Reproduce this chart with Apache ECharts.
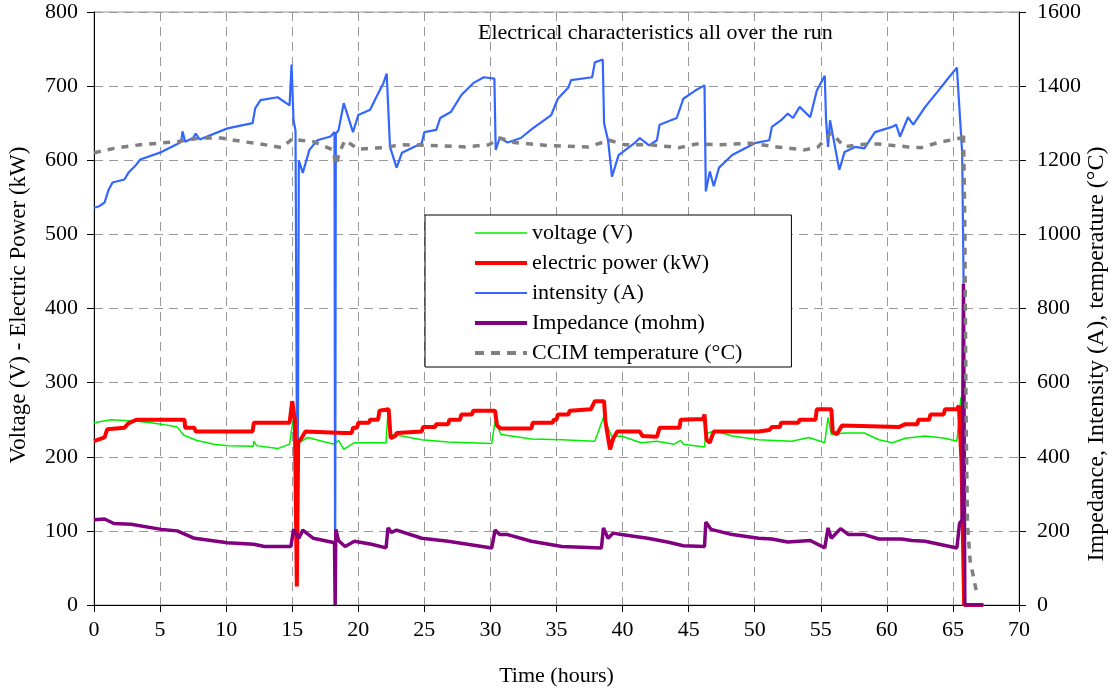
<!DOCTYPE html>
<html>
<head>
<meta charset="utf-8">
<title>Electrical characteristics</title>
<script src="https://cdn.jsdelivr.net/npm/echarts@6/dist/echarts.min.js"></script>
<style>
  html, body { margin: 0; padding: 0; background: #fff; }
  #chart { width: 1112px; height: 692px; }
</style>
</head>
<body>
<div id="chart"></div>
<script>
// x axis ticks (hours), left axis ticks, right axis ticks
var xTicks = [0, 5, 10, 15, 20, 25, 30, 35, 40, 45, 50, 55, 60, 65, 70];
var leftTicks = [0, 100, 200, 300, 400, 500, 600, 700, 800];
var rightTicks = [0, 200, 400, 600, 800, 1000, 1200, 1400, 1600];

// voltage (V) - left axis
var voltageTime = [0.0, 1.3, 2.3, 3.3, 4.3, 5.1, 6.3, 6.8, 7.8, 9.1, 10.1, 12.05, 12.1, 12.3, 13.9, 14.8, 15.05, 15.3, 15.5, 16.2, 17.7, 18.2,
  18.5, 18.9, 19.7, 21.3, 22.1, 22.25, 22.5, 23.3, 24.8, 26.8, 30.1, 30.35, 30.8, 33.1, 35.4, 37.9, 38.55, 39.2, 39.9, 41.4, 42.6,
  43.9, 44.4, 44.6, 46.2, 46.3, 47.0, 48.3, 50.3, 52.8, 54.1, 55.3, 55.55, 55.8, 56.8, 58.3, 59.4, 60.4, 61.4, 62.9, 64.4, 65.3,
  65.6, 65.85, 67.3];
var voltage = [246, 250, 249, 248, 246, 244, 240, 229, 222, 217, 215, 214, 221, 215, 211, 217, 248, 222, 219, 226, 219, 217,
  222, 210, 219, 219, 219, 262, 230, 228, 223, 220, 218, 248, 230, 224, 223, 221, 253, 227, 228, 219, 221,
  217, 222, 217, 213, 231, 235, 228, 223, 221, 226, 219, 253, 230, 232, 232, 223, 219, 225, 228, 225, 221,
  280, 0, 0];

// electric power (kW) - left axis
var powerTime = [0.0, 0.8, 1.0, 2.3, 2.6, 3.2, 6.85, 6.9, 7.6, 7.7, 12.0, 12.1, 14.8, 15.0, 15.2, 15.35, 15.45, 15.7, 16.0, 18.9,
  19.5, 19.6, 19.9, 20.0, 20.8, 20.9, 21.5, 21.6, 22.3, 22.45, 22.8, 22.9, 24.8, 24.9, 25.8, 25.9, 26.8, 26.9, 27.7, 27.8, 28.6,
  28.7, 30.35, 30.5, 30.8, 33.1, 33.2, 34.7, 34.8, 35.0, 35.1, 35.9, 36.0, 37.6, 37.9, 38.6, 38.7, 39.05, 39.3, 39.6, 41.3, 41.5,
  42.6, 42.8, 44.3, 44.4, 46.1, 46.2, 46.35, 46.6, 46.9, 50.3, 51.1, 51.3, 51.9, 52.0, 53.3, 53.4, 54.6, 54.7, 55.8, 55.9, 56.2,
  56.6, 60.9, 61.4, 62.3, 62.4, 63.2, 63.3, 64.3, 64.4, 65.3, 65.45, 65.6, 65.65, 65.85, 67.3];
var power = [221, 226, 237, 239, 245, 250, 250, 239, 239, 234, 234, 246, 246, 275, 250, 25, 219, 225, 234, 232,
  232, 239, 239, 246, 246, 250, 250, 262, 264, 225, 228, 232, 234, 240, 240, 244, 244, 250, 250, 257, 257,
  262, 262, 242, 238, 238, 246, 246, 250, 250, 257, 257, 262, 264, 275, 275, 248, 210, 225, 234, 234, 228,
  227, 239, 239, 250, 251, 257, 223, 219, 234, 234, 236, 240, 240, 246, 246, 250, 250, 264, 264, 234, 230,
  242, 240, 244, 244, 250, 250, 257, 257, 264, 264, 269, 269, 193, 0, 0];

// intensity (A) - right axis
var intensityTime = [0.0, 0.4, 0.8, 1.1, 1.4, 2.3, 2.6, 3.2, 3.5, 5.1, 6.3, 6.6, 6.7, 6.9, 7.5, 7.7, 8.0, 10.1, 12.0, 12.2,
  12.6, 13.9, 14.8, 14.95, 15.1, 15.25, 15.4, 15.5, 15.8, 16.3, 16.9, 17.9, 18.2, 18.25, 18.3, 18.5, 18.9, 19.6, 20.0, 20.9,
  21.3, 21.9, 22.15, 22.4, 22.9, 23.3, 24.8, 25.0, 25.9, 26.2, 27.0, 27.8, 28.7, 29.5, 30.3, 30.4, 30.7, 31.3, 32.3, 33.2,
  34.6, 35.1, 35.9, 36.1, 37.7, 37.9, 38.5, 38.6, 38.9, 39.2, 39.7, 40.9, 41.3, 42.0, 42.6, 42.8, 44.1, 44.6, 45.5, 46.2,
  46.3, 46.6, 46.9, 47.3, 48.3, 50.0, 51.1, 51.3, 52.0, 52.5, 52.9, 53.4, 54.2, 54.7, 55.3, 55.4, 55.55, 55.7, 56.4, 56.8,
  57.6, 58.3, 59.1, 60.4, 60.7, 61.0, 61.6, 62.0, 62.9, 63.9, 64.7, 65.3, 65.7, 65.8, 65.9, 67.3];
var intensity = [1072, 1076, 1086, 1120, 1140, 1148, 1166, 1188, 1202, 1222, 1244, 1250, 1278, 1250, 1260, 1272, 1256, 1286, 1300, 1340,
  1362, 1370, 1348, 1458, 1308, 1280, 80, 1200, 1166, 1228, 1254, 1264, 1276, 0, 1272, 1280, 1354, 1276, 1322, 1336,
  1366, 1408, 1434, 1236, 1180, 1220, 1246, 1276, 1282, 1314, 1330, 1376, 1408, 1424, 1420, 1228, 1260, 1248, 1260, 1286,
  1322, 1366, 1396, 1416, 1424, 1464, 1472, 1300, 1254, 1156, 1214, 1246, 1260, 1240, 1254, 1296, 1314, 1366, 1388, 1402,
  1116, 1170, 1130, 1180, 1214, 1246, 1254, 1290, 1308, 1326, 1314, 1344, 1316, 1388, 1428, 1308, 1236, 1308, 1174, 1222,
  1236, 1232, 1276, 1290, 1296, 1264, 1316, 1296, 1344, 1388, 1424, 1450, 1220, 898, 0, 0];

// Impedance (mohm) - right axis
var impedanceTime = [0.0, 0.8, 1.5, 2.8, 5.1, 6.3, 7.6, 10.1, 12.1, 12.9, 14.9, 15.1, 15.5, 15.8, 16.6, 18.2, 18.25, 18.3, 18.5,
  19.0, 19.7, 21.0, 22.1, 22.25, 22.5, 22.9, 24.8, 26.8, 30.1, 30.35, 30.7, 31.3, 33.1, 35.4, 38.4, 38.55, 38.9, 39.3, 39.9,
  41.9, 43.4, 44.6, 46.2, 46.3, 46.7, 48.3, 50.3, 51.3, 52.5, 54.2, 55.3, 55.55, 55.8, 56.5, 57.1, 58.3, 59.4, 61.1, 61.9,
  62.9, 65.3, 65.5, 65.7, 65.8, 65.9, 67.3];
var impedance = [230, 232, 220, 218, 204, 200, 180, 168, 164, 158, 158, 204, 180, 202, 180, 168, 0, 204, 174,
  158, 172, 164, 154, 208, 196, 202, 180, 172, 154, 202, 190, 190, 172, 158, 154, 208, 180, 194, 190,
  180, 170, 160, 158, 224, 204, 190, 180, 178, 170, 174, 154, 208, 180, 206, 190, 190, 178, 178, 174,
  172, 154, 220, 230, 866, 0, 0];

// CCIM temperature (°C) - right axis
var temperatureTime = [0.0, 1.5, 3.5, 6.3, 8.0, 9.6, 11.3, 12.6, 14.2, 15.1, 15.6, 16.6, 18.1, 18.3, 18.6, 19.0, 20.0, 21.8,
  22.2, 23.3, 25.5, 28.1, 29.9, 30.7, 31.8, 34.3, 37.4, 39.0, 40.1, 42.0, 44.3, 45.6, 47.4, 49.7, 51.7, 53.8, 54.8, 55.8,
  56.8, 57.8, 59.3, 61.6, 62.6, 63.9, 65.6, 65.8, 65.9, 66.0, 66.1, 66.3, 66.8];
var temperature = [1220, 1232, 1242, 1250, 1260, 1260, 1250, 1244, 1234, 1260, 1254, 1250, 1228, 1186, 1224, 1254, 1230, 1234,
  1236, 1242, 1240, 1236, 1242, 1260, 1248, 1240, 1236, 1254, 1242, 1242, 1234, 1244, 1242, 1246, 1236, 1228, 1236, 1274,
  1236, 1242, 1244, 1236, 1234, 1248, 1260, 1276, 1022, 486, 220, 120, 32];

var serif = "'Liberation Serif', 'Times New Roman', serif";

function pairs(xs, ys) {
  var out = [];
  for (var i = 0; i < xs.length; i++) {
    out.push([xs[i], ys[i]]);
  }
  return out;
}

var chartObj = echarts.init(document.getElementById('chart'));

var gridLine = { show: true, lineStyle: { color: '#999', type: [9, 6], width: 1 } };

var option = {
  animation: false,
  backgroundColor: '#fff',
  title: {
    text: 'Electrical characteristics all over the run',
    left: 478,
    top: 22,
    padding: 0,
    textStyle: { fontFamily: serif, fontSize: 22, fontWeight: 'normal', color: '#000' }
  },
  legend: {
    orient: 'vertical',
    left: 425,
    top: 215,
    padding: [7, 49, 3, 48],
    itemWidth: 52,
    itemHeight: 14,
    itemGap: 8,
    borderColor: '#000',
    borderWidth: 1,
    borderRadius: 0,
    backgroundColor: '#fff',
    // hide the marker symbol, keep only the line sample
    itemStyle: { opacity: 0 },
    textStyle: { fontFamily: serif, fontSize: 22, lineHeight: 22, color: '#000' },
    data: [
      { name: 'voltage (V)', lineStyle: { width: 1.5 } },
      { name: 'electric power (kW)', lineStyle: { width: 4 } },
      { name: 'intensity (A)', lineStyle: { width: 2 } },
      { name: 'Impedance (mohm)', lineStyle: { width: 4 } },
      { name: 'CCIM temperature (°C)', lineStyle: { width: 4, type: [9, 7] } }
    ]
  },
  grid: {
    left: 94,
    right: 93,
    top: 12,
    bottom: 83,
    show: true,
    borderColor: '#999',
    borderWidth: 1,
    backgroundColor: 'transparent'
  },
  xAxis: {
    type: 'value',
    min: xTicks[0],
    max: xTicks[xTicks.length - 1],
    interval: 5,
    name: 'Time (hours)',
    nameLocation: 'middle',
    nameGap: 60,
    nameTextStyle: { fontFamily: serif, fontSize: 22, color: '#000' },
    axisLine: { show: true, lineStyle: { color: '#000', width: 1 } },
    axisTick: { show: true, length: 7, lineStyle: { color: '#000' } },
    axisLabel: { fontFamily: serif, fontSize: 22, color: '#000', margin: 14 },
    splitLine: gridLine
  },
  yAxis: [
    {
      type: 'value',
      position: 'left',
      min: leftTicks[0],
      max: leftTicks[leftTicks.length - 1],
      interval: 100,
      axisLine: { show: true, lineStyle: { color: '#000', width: 1 } },
      axisTick: { show: true, length: 7, lineStyle: { color: '#000' } },
      axisLabel: { fontFamily: serif, fontSize: 22, color: '#000', margin: 16, formatter: function (v) { return String(v); } },
      splitLine: gridLine
    },
    {
      type: 'value',
      position: 'right',
      min: rightTicks[0],
      max: rightTicks[rightTicks.length - 1],
      interval: 200,
      axisLine: { show: true, lineStyle: { color: '#000', width: 1 } },
      axisTick: { show: true, length: 7, lineStyle: { color: '#000' } },
      axisLabel: { fontFamily: serif, fontSize: 22, color: '#000', margin: 18, formatter: function (v) { return String(v); } },
      splitLine: { show: false }
    }
  ],
  graphic: [
    {
      type: 'text',
      x: 19,
      y: 305,
      rotation: Math.PI / 2,
      style: {
        text: 'Voltage (V) - Electric Power (kW)',
        font: '23px ' + serif,
        fill: '#000',
        textAlign: 'center',
        textVerticalAlign: 'middle'
      }
    },
    {
      type: 'text',
      x: 1097,
      y: 354,
      rotation: Math.PI / 2,
      style: {
        text: 'Impedance, Intensity (A), temperature (°C)',
        font: '24px ' + serif,
        fill: '#000',
        textAlign: 'center',
        textVerticalAlign: 'middle'
      }
    }
  ],
  // drawing order: later series lie on top
  series: [
    {
      name: 'voltage (V)',
      type: 'line',
      yAxisIndex: 0,
      symbol: 'none',
      data: pairs(voltageTime, voltage),
      lineStyle: { color: '#00ee00', width: 1.5 },
      itemStyle: { color: '#00ee00' }
    },
    {
      name: 'intensity (A)',
      type: 'line',
      yAxisIndex: 1,
      symbol: 'none',
      data: pairs(intensityTime, intensity),
      lineStyle: { color: '#3366ff', width: 2.2 },
      itemStyle: { color: '#3366ff' }
    },
    {
      name: 'electric power (kW)',
      type: 'line',
      yAxisIndex: 0,
      symbol: 'none',
      data: pairs(powerTime, power),
      lineStyle: { color: '#ff0000', width: 4 },
      itemStyle: { color: '#ff0000' }
    },
    {
      name: 'Impedance (mohm)',
      type: 'line',
      yAxisIndex: 1,
      symbol: 'none',
      data: pairs(impedanceTime, impedance),
      lineStyle: { color: '#800080', width: 3.5 },
      itemStyle: { color: '#800080' }
    },
    {
      name: 'CCIM temperature (°C)',
      type: 'line',
      yAxisIndex: 1,
      symbol: 'none',
      data: pairs(temperatureTime, temperature),
      lineStyle: { color: '#808080', width: 3.5, type: [7, 7] },
      itemStyle: { color: '#808080' }
    }
  ]
};

chartObj.setOption(option);
</script>
</body>
</html>
